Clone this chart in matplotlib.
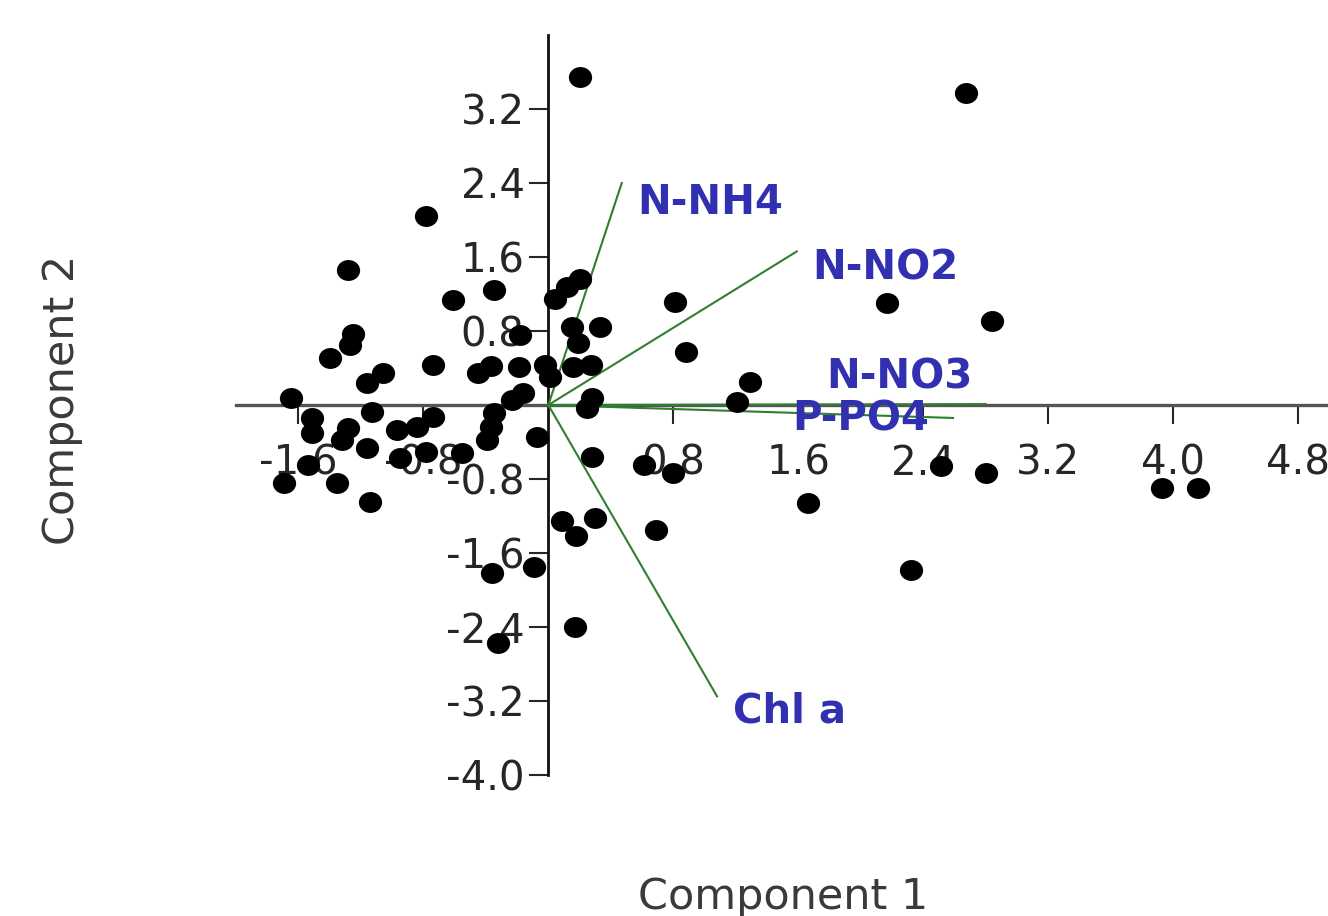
import matplotlib
matplotlib.use('Agg')
import matplotlib.pyplot as plt
import numpy as np
from matplotlib.path import Path

plt.rcParams['axes.unicode_minus'] = False
plt.rcParams['font.family'] = ['DejaVu Sans']

# 样本得分 (Component 1, Component 2)
comp1 = [0.20, 2.67, -0.78, -1.28, 2.17, 2.84, 0.81, 0.88, 1.29, 1.21,
         0.04, 0.12, 0.20, -0.35, -0.61, -0.18, 0.15, 0.33, 0.19, -0.45,
         -0.37, -0.19, -0.02, 0.01, 0.16, 0.27, 0.28, 0.25, -0.74, -1.25,
         -1.27, -1.40, -1.06, -1.16, -1.65, -1.51, -1.51, -1.13, -1.28, -1.32,
         -1.16, -0.97, -0.84, -0.74, -0.78, -0.95, -0.55, -1.54, -1.69, -1.35,
         -1.14, -0.23, -0.16, -0.35, -0.37, -0.39, -0.07, 0.28, 0.61, 0.80,
         1.66, 0.69, 2.51, 2.80, 3.93, 4.16, 2.32, 0.09, 0.18, 0.30,
         -0.36, -0.09, 0.17, -0.32]
comp2 = [3.55, 3.37, 2.04, 1.46, 1.10, 0.91, 1.11, 0.57, 0.25, 0.03,
         1.15, 1.28, 1.36, 1.24, 1.14, 0.76, 0.84, 0.84, 0.67, 0.35,
         0.42, 0.41, 0.43, 0.30, 0.41, 0.43, 0.08, -0.03, 0.43, 0.77,
         0.65, 0.51, 0.35, 0.24, 0.08, -0.14, -0.30, -0.08, -0.25, -0.38,
         -0.47, -0.27, -0.24, -0.13, -0.51, -0.57, -0.52, -0.65, -0.84, -0.84,
         -1.05, 0.05, 0.13, -0.09, -0.24, -0.38, -0.35, -0.56, -0.65, -0.74,
         -1.06, -1.35, -0.66, -0.74, -0.90, -0.90, -1.78, -1.25, -1.42, -1.22,
         -1.82, -1.75, -2.40, -2.57]

# 变量载荷向量
var_names = ['N-NH4', 'N-NO2', 'N-NO3', 'P-PO4', 'Chl a']
load_x = [0.47, 1.59, 2.80, 2.59, 1.08]
load_y = [2.40, 1.66, 0.01, -0.14, -3.15]
label_x = [0.57, 1.69, 1.78, 1.56, 1.18]
label_y = [2.18, 1.48, 0.30, -0.16, -3.31]

xticks = [-1.6, -0.8, 0.8, 1.6, 2.4, 3.2, 4.0, 4.8]
yticks = [-4.0, -3.2, -2.4, -1.6, -0.8, 0.8, 1.6, 2.4, 3.2]

fig = plt.figure(figsize=(13.28, 9.16), dpi=100)
ax = fig.add_axes([0.1776, 0.1539, 0.8471, 0.8079])
ax.set_xlim(-2.0, 5.2)
ax.set_ylim(-4.0, 4.0)

# 坐标轴穿过原点
ax.spines['left'].set_position(('data', 0))
ax.spines['bottom'].set_position(('data', 0))
ax.spines['top'].set_visible(False)
ax.spines['right'].set_visible(False)
ax.spines['left'].set_color('#111111')
ax.spines['left'].set_linewidth(2.0)
ax.spines['bottom'].set_color('#555555')
ax.spines['bottom'].set_linewidth(2.4)

ax.set_xticks(xticks)
ax.set_xticklabels(['%.1f' % t for t in xticks])
ax.set_yticks(yticks)
ax.set_yticklabels(['%.1f' % t for t in yticks])
ax.tick_params(axis='y', direction='out', length=14, width=1.5,
               pad=3, labelsize=29, colors='#262626')
ax.tick_params(axis='x', direction='out', length=14, width=1.5,
               pad=14, labelsize=29, colors='#262626')

# 载荷线
for lx, ly in zip(load_x, load_y):
    ax.plot([0, lx], [0, ly], color='#2f7f2f', lw=1.5, zorder=2.6)

# 样本点 (略扁的椭圆点)
circ = Path.unit_circle()
ellipse = Path(circ.vertices * np.array([1.0, 0.9]), circ.codes)
ax.scatter(comp1, comp2, s=280, color='black', marker=ellipse,
           zorder=3, linewidths=0)

for name, tx, ty in zip(var_names, label_x, label_y):
    ax.text(tx, ty, name, color='#3030b0', fontsize=29, fontweight='bold',
            ha='left', va='center', zorder=4)

fig.text(0.5896, 0.0207, 'Component 1', ha='center', va='center',
         fontsize=31, color='#3a3a3a')
fig.text(0.0467, 0.5633, 'Component 2', ha='center', va='center',
         rotation=90, fontsize=31, color='#3a3a3a')

fig.savefig('out.png', dpi=100)
